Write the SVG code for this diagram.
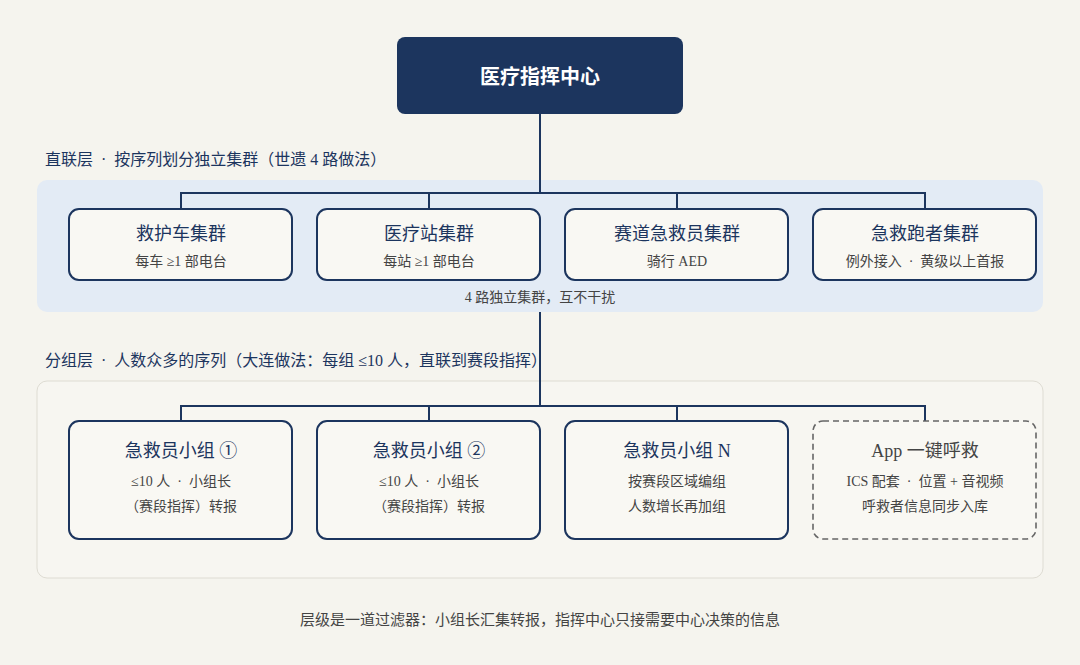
<svg xmlns="http://www.w3.org/2000/svg" width="1080" height="665" viewBox="0 0 1080 665">
<style>
text{font-family:"Liberation Serif","Noto Sans CJK SC",serif}
.box{fill:#f9f8f3;stroke:#1c355e;stroke-width:2}
.dash{fill:#f9f8f3;stroke:#666;stroke-width:1.6;stroke-dasharray:6 4}
.t{font-size:18px;fill:#1c355e;text-anchor:middle}
.s{font-size:14px;fill:#444;text-anchor:middle}
.lab{font-size:16px;fill:#1c355e}
.ln{fill:none;stroke:#1c355e;stroke-width:2}
</style>
<rect width="1080" height="665" fill="#f5f4ee"/>
<rect x="37" y="180" width="1006" height="132" rx="10" fill="#e3ebf5"/>
<rect x="37" y="381" width="1006" height="197" rx="10" fill="#f7f6f1" stroke="#dedcd3"/>
<text class="lab" x="45" y="165">直联层 &#160;·&#160; 按序列划分独立集群（世遗 4 路做法）</text>
<text class="lab" x="45" y="366">分组层 &#160;·&#160; 人数众多的序列（大连做法：每组 ≤10 人，直联到赛段指挥）</text>
<g id="connectors">
<path class="ln" d="M540 114V193M181 209V193H925V209M429 193V209M677 193V209"/>
<path class="ln" d="M540 312V406M181 421V406H925V421M429 406V421M677 406V421"/>
</g>
<g id="center"><rect x="397" y="37" width="286" height="77" rx="8" fill="#1c355e"/>
<text x="540" y="84" font-size="20" fill="#fff" text-anchor="middle" font-weight="bold">医疗指挥中心</text></g>
<g id="n1"><rect class="box" x="69" y="209" width="223" height="71" rx="10"/><text class="t" x="181" y="240">救护车集群</text><text class="s" x="181" y="266">每车 ≥1 部电台</text></g>
<g id="n2"><rect class="box" x="317" y="209" width="223" height="71" rx="10"/><text class="t" x="429" y="240">医疗站集群</text><text class="s" x="429" y="266">每站 ≥1 部电台</text></g>
<g id="n3"><rect class="box" x="565" y="209" width="223" height="71" rx="10"/><text class="t" x="677" y="240">赛道急救员集群</text><text class="s" x="677" y="266">骑行 AED</text></g>
<g id="n4"><rect class="box" x="813" y="209" width="223" height="71" rx="10"/><text class="t" x="925" y="240">急救跑者集群</text><text class="s" x="925" y="266">例外接入 &#160;·&#160; 黄级以上首报</text></g>
<text class="s" x="540" y="302" font-size="13">4 路独立集群，互不干扰</text>
<g id="g1"><rect class="box" x="69" y="421" width="223" height="118" rx="10"/><text class="t" x="181" y="457">急救员小组 ①</text><text class="s" x="181" y="486">≤10 人 &#160;·&#160; 小组长</text><text class="s" x="181" y="511">（赛段指挥）转报</text></g>
<g id="g2"><rect class="box" x="317" y="421" width="223" height="118" rx="10"/><text class="t" x="429" y="457">急救员小组 ②</text><text class="s" x="429" y="486">≤10 人 &#160;·&#160; 小组长</text><text class="s" x="429" y="511">（赛段指挥）转报</text></g>
<g id="g3"><rect class="box" x="565" y="421" width="223" height="118" rx="10"/><text class="t" x="677" y="457">急救员小组 N</text><text class="s" x="677" y="486">按赛段区域编组</text><text class="s" x="677" y="511">人数增长再加组</text></g>
<g id="g4"><rect class="dash" x="813" y="421" width="223" height="118" rx="10"/><text class="t" x="925" y="457" style="fill:#444">App 一键呼救</text><text class="s" x="925" y="486">ICS 配套 &#160;·&#160; 位置 + 音视频</text><text class="s" x="925" y="511">呼救者信息同步入库</text></g>
<text x="540" y="625" font-size="15" fill="#444" text-anchor="middle">层级是一道过滤器：小组长汇集转报，指挥中心只接需要中心决策的信息</text>
</svg>
